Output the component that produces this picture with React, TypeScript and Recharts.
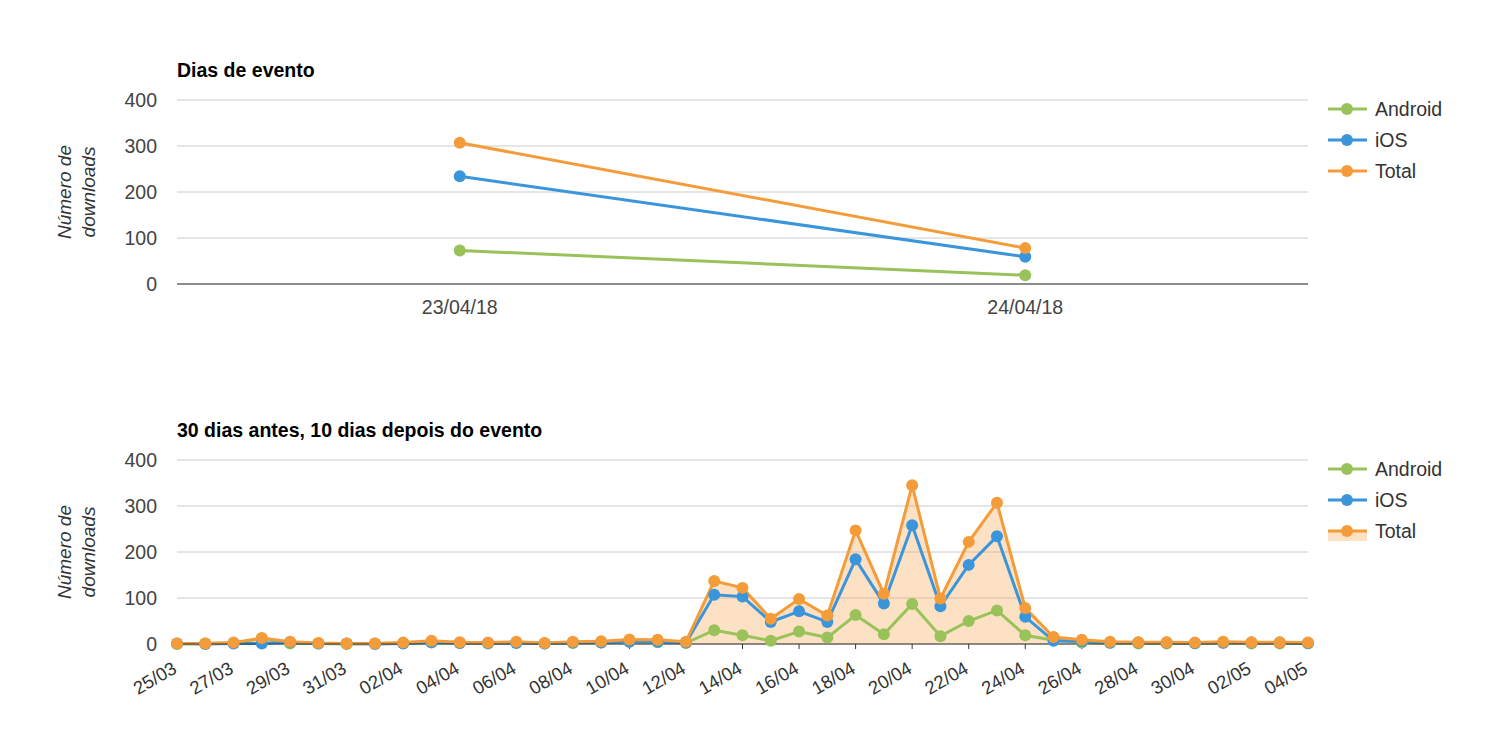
import React from 'react';
import { ComposedChart, Line, Area, XAxis, YAxis, CartesianGrid } from 'recharts';

const FONT = '"Liberation Sans", Arial, sans-serif';
const GREEN = '#99c25a';
const BLUE = '#3b95db';
const ORANGE = '#f59c3a';

// top chart: event days
const eventDays = ['23/04/18', '24/04/18'];
const eventAndroid = [73, 19];
const eventIos = [234, 59];
const eventTotal = [307, 78];

// bottom chart: 30 days before, 10 days after
const periodDays = [
  '25/03', '26/03', '27/03', '28/03', '29/03', '30/03', '31/03',
  '01/04', '02/04', '03/04', '04/04', '05/04', '06/04', '07/04', '08/04', '09/04', '10/04',
  '11/04', '12/04', '13/04', '14/04', '15/04', '16/04', '17/04', '18/04', '19/04', '20/04',
  '21/04', '22/04', '23/04', '24/04', '25/04', '26/04', '27/04', '28/04', '29/04', '30/04',
  '01/05', '02/05', '03/05', '04/05',
];
const periodAndroid = [
  0, 1, 2, 12, 1, 1, 0, 1, 2, 3, 2, 1, 3, 1, 2, 3, 5, 4, 2, 30, 19,
  7, 27, 14, 63, 21, 87, 17, 50, 73, 19, 8, 3, 2, 1, 1, 1, 2, 1, 1, 1,
];
const periodIos = [
  1, 0, 1, 1, 4, 1, 1, 0, 1, 4, 2, 2, 2, 1, 3, 3, 5, 5, 3, 107, 103,
  48, 71, 48, 184, 88, 258, 82, 172, 234, 59, 7, 6, 3, 3, 3, 2, 3, 3, 3, 2,
];
const periodTotal = [
  1, 1, 3, 13, 5, 2, 1, 1, 3, 7, 4, 3, 5, 2, 5, 6, 10, 9, 5, 137, 122,
  55, 98, 62, 247, 109, 345, 99, 222, 307, 78, 15, 9, 5, 4, 4, 3, 5, 4, 4, 3,
];

const yTicks = [0, 100, 200, 300, 400];

const eventData = eventDays.map((day, i) => ({
  day,
  android: eventAndroid[i],
  ios: eventIos[i],
  total: eventTotal[i],
}));

const periodData = periodDays.map((day, i) => ({
  day,
  android: periodAndroid[i],
  ios: periodIos[i],
  total: periodTotal[i],
}));

const YLabel = ({ viewBox }: any) => {
  const cy = viewBox.y + viewBox.height / 2;
  return (
    <g transform={`translate(71, ${cy}) rotate(-90)`}>
      <text x={0} y={0} textAnchor="middle" fontSize={19} fontStyle="italic" fill="#333" fontFamily={FONT}>
        Número de
      </text>
      <text x={0} y={24} textAnchor="middle" fontSize={19} fontStyle="italic" fill="#333" fontFamily={FONT}>
        downloads
      </text>
    </g>
  );
};

const RotatedTick = ({ x, y, payload }: any) => (
  <g transform={`translate(${x + 1}, ${y + 21}) rotate(-30)`}>
    <text x={0} y={0} textAnchor="end" fontSize={18.5} fill="#333" fontFamily={FONT}>
      {payload.value}
    </text>
  </g>
);

const LegendBox = ({ top, area }: { top: number; area?: boolean }) => {
  const items = [
    { name: 'Android', color: GREEN },
    { name: 'iOS', color: BLUE },
    { name: 'Total', color: ORANGE },
  ];
  return (
    <svg style={{ position: 'absolute', left: 1320, top }} width={160} height={100}>
      {items.map((it, i) => {
        const cy = 19 + i * 31;
        return (
          <g key={it.name}>
            {area && it.name === 'Total' && (
              <rect x={8} y={cy} width={39} height={10} fill={ORANGE} fillOpacity={0.3} />
            )}
            <line x1={8} x2={47} y1={cy} y2={cy} stroke={it.color} strokeWidth={3} />
            <circle cx={27} cy={cy} r={6} fill={it.color} />
            <text x={55} y={cy} dy="0.36em" fontSize={19.5} fill="#333" fontFamily={FONT}>
              {it.name}
            </text>
          </g>
        );
      })}
    </svg>
  );
};

const Title = ({ top, children }: { top: number; children: React.ReactNode }) => (
  <div
    style={{
      position: 'absolute',
      left: 177,
      top,
      fontFamily: FONT,
      fontWeight: 'bold',
      fontSize: 19.5,
      color: '#000',
      whiteSpace: 'nowrap',
    }}
  >
    {children}
  </div>
);

const dot = (color: string) => ({ r: 6, fill: color, stroke: color, strokeWidth: 0 });

const tickStyle = { fill: '#444', fontSize: 19.5, fontFamily: FONT };

export default function App() {
  return (
    <div
      style={{
        position: 'fixed',
        left: 0,
        top: 0,
        width: 1486,
        height: 740,
        background: '#fff',
        overflow: 'hidden',
      }}
    >
      <Title top={59}>Dias de evento</Title>
      <div style={{ position: 'absolute', left: 0, top: 0 }}>
        <ComposedChart
          width={1486}
          height={340}
          data={eventData}
          margin={{ top: 100, right: 178, left: 117, bottom: 16 }}
        >
          <CartesianGrid vertical={false} stroke="#ccc" />
          <XAxis
            dataKey="day"
            scale="band"
            height={40}
            tickLine={false}
            tickSize={8}
            tickMargin={8}
            axisLine={{ stroke: '#333' }}
            tick={tickStyle}
          />
          <YAxis
            width={60}
            domain={[0, 400]}
            ticks={yTicks}
            axisLine={false}
            tickLine={false}
            tickMargin={14}
            tick={tickStyle}
            label={<YLabel />}
          />
          <Line dataKey="android" stroke={GREEN} strokeWidth={3} dot={dot(GREEN)} isAnimationActive={false} />
          <Line dataKey="ios" stroke={BLUE} strokeWidth={3} dot={dot(BLUE)} isAnimationActive={false} />
          <Line dataKey="total" stroke={ORANGE} strokeWidth={3} dot={dot(ORANGE)} isAnimationActive={false} />
        </ComposedChart>
      </div>
      <LegendBox top={90} />

      <Title top={419}>30 dias antes, 10 dias depois do evento</Title>
      <div style={{ position: 'absolute', left: 0, top: 0 }}>
        <ComposedChart
          width={1486}
          height={740}
          data={periodData}
          margin={{ top: 460, right: 178, left: 117, bottom: 36 }}
        >
          <CartesianGrid vertical={false} stroke="#ccc" />
          <XAxis
            dataKey="day"
            scale="point"
            height={60}
            interval={1}
            tickSize={5}
            tickLine={{ stroke: '#333' }}
            axisLine={{ stroke: '#333' }}
            tick={<RotatedTick />}
          />
          <YAxis
            width={60}
            domain={[0, 400]}
            ticks={yTicks}
            axisLine={false}
            tickLine={false}
            tickMargin={14}
            tick={tickStyle}
            label={<YLabel />}
          />
          <Area dataKey="total" stroke="none" fill={ORANGE} fillOpacity={0.3} isAnimationActive={false} />
          <Line dataKey="android" stroke={GREEN} strokeWidth={3} dot={dot(GREEN)} isAnimationActive={false} />
          <Line dataKey="ios" stroke={BLUE} strokeWidth={3} dot={dot(BLUE)} isAnimationActive={false} />
          <Line dataKey="total" stroke={ORANGE} strokeWidth={3} dot={dot(ORANGE)} isAnimationActive={false} />
        </ComposedChart>
      </div>
      <LegendBox top={450} area />
    </div>
  );
}
